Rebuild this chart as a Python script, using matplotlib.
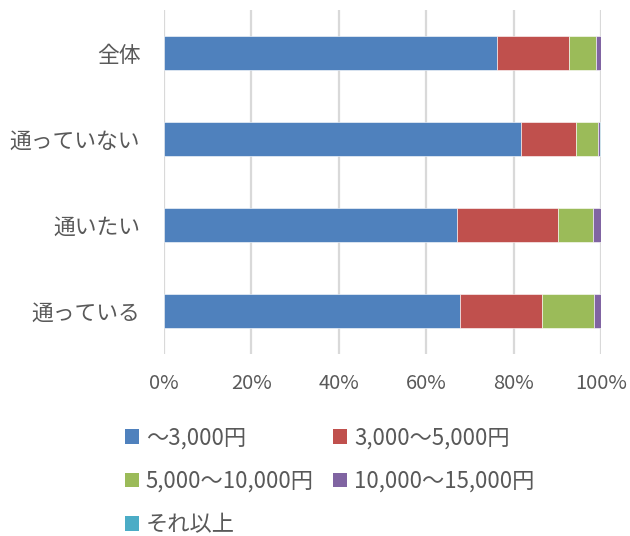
import matplotlib
matplotlib.use("Agg")
import matplotlib.pyplot as plt
import numpy as np
from matplotlib.patches import Patch

plt.rcParams['font.family'] = ['Noto Sans CJK JP', 'DejaVu Sans']

categories = ["全体", "通っていない", "通いたい", "通っている"]
series_names = ["～3,000円", "3,000～5,000円", "5,000～10,000円", "10,000～15,000円", "それ以上"]
under_3000 = [76.3, 81.6, 67.0, 67.7]
from_3000_to_5000 = [16.3, 12.7, 23.1, 18.7]
from_5000_to_10000 = [6.3, 5.0, 8.0, 11.9]
from_10000_to_15000 = [1.0, 0.4, 1.9, 1.7]
over_15000 = [0.1, 0.3, 0.0, 0.0]
tick_labels = ["0%", "20%", "40%", "60%", "80%", "100%"]

colors = ["#4F81BD", "#C0504D", "#9BBB59", "#8064A2", "#4BACC6"]
text_color = "#595959"

fig = plt.figure(figsize=(6.30, 5.36), dpi=100)
ax = fig.add_axes([0.2603, 0.3396, 0.6937, 0.6417])

series = [under_3000, from_3000_to_5000, from_5000_to_10000, from_10000_to_15000, over_15000]
y = np.arange(len(categories))
left = np.zeros(len(categories))
handles = []
for vals, name, col in zip(series, series_names, colors):
    vals = np.array(vals, dtype=float)
    ax.barh(y, vals, left=left, height=0.4, color=col, edgecolor="white",
            linewidth=0.4, zorder=3)
    left += vals
    handles.append(Patch(facecolor=col, edgecolor="none", label=name))

ax.set_xlim(0, 100)
ax.set_ylim(len(categories) - 0.5, -0.5)
ax.set_xticks(np.arange(0, 101, 20))
ax.set_xticklabels(tick_labels)
ax.set_yticks(y)
ax.set_yticklabels(categories)
ax.tick_params(axis="both", length=0, colors=text_color)
ax.tick_params(axis="x", pad=14, labelsize=14.5)
ax.tick_params(axis="y", pad=17, labelsize=15.7)
ax.grid(axis="x", color="#D9D9D9", linewidth=1.6, zorder=0)
for s in ax.spines.values():
    s.set_visible(False)

order = [0, 2, 4, 1, 3]
leg = fig.legend([handles[i] for i in order], [series_names[i] for i in order],
                 ncol=2, loc="upper left", bbox_to_anchor=(0.198, 0.205),
                 frameon=False, fontsize=16, handlelength=0.65, handleheight=0.65,
                 handletextpad=0.3, columnspacing=0.85, labelspacing=0.93,
                 borderaxespad=0, borderpad=0)
for t in leg.get_texts():
    t.set_color(text_color)

fig.savefig("out.png", dpi=100)
